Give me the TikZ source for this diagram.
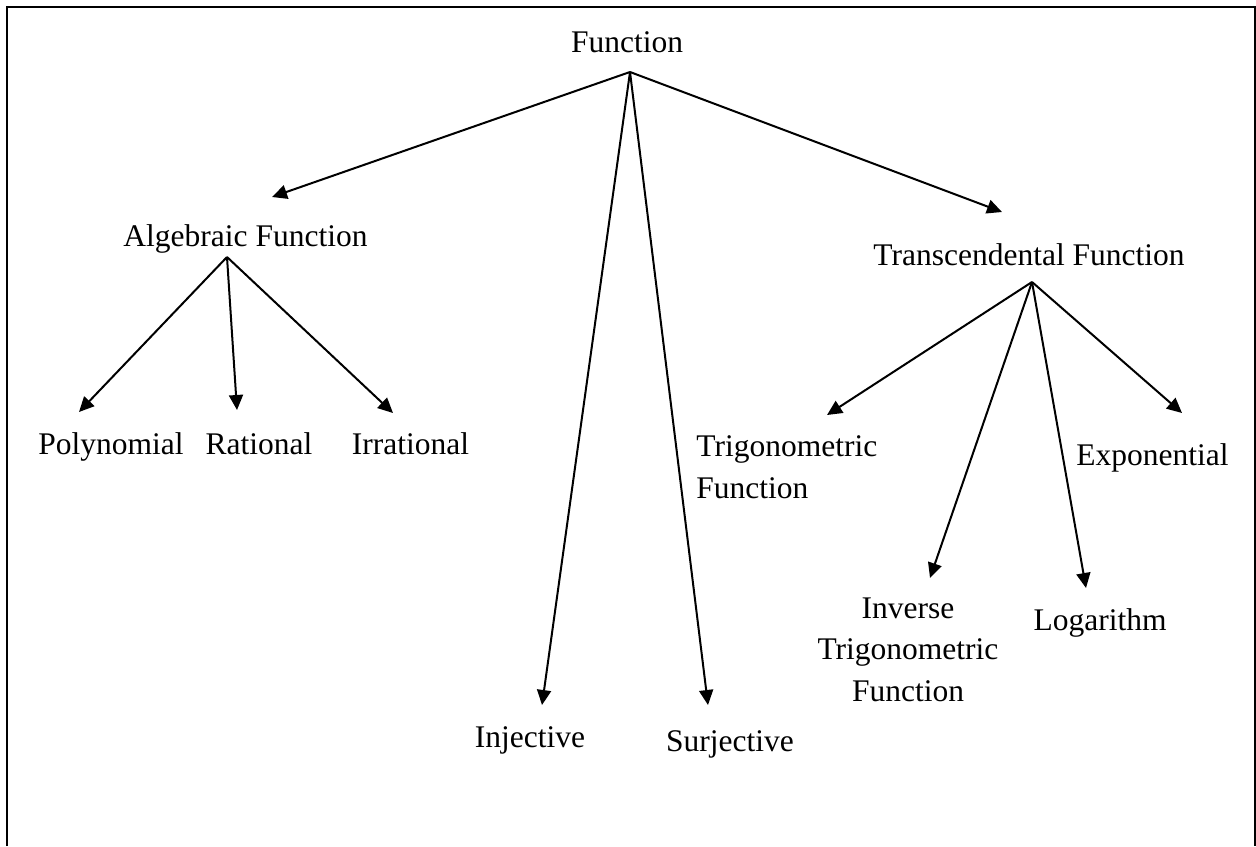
\documentclass[tikz,border=0pt]{standalone}
\usepackage{fontspec}
\setmainfont{Liberation Serif}
\usetikzlibrary{arrows.meta}

\begin{document}
\begin{tikzpicture}[x = 0.5pt, y = -0.5pt,
	lbl/.style = {inner sep = 0pt, font = \fontsize{15.75}{20.75}\selectfont},
	arr/.style = {line width = 1pt, -{Triangle[length = 7.5pt, width = 7pt]}}]
			\useasboundingbox (0,0) rectangle (1256,846);
			\draw[line width = 1pt] (7,846) -- (7,7) -- (1255,7) -- (1255,846);
			\node (fn) at (627,52) [lbl, anchor = base] {Function};
			\node (alg) at (245.5,246) [lbl, anchor = base] {Algebraic Function};
			\node (trans) at (1029,265) [lbl, anchor = base] {Transcendental Function};
			\node (poly) at (111,454) [lbl, anchor = base] {Polynomial};
			\node (rat) at (259,454) [lbl, anchor = base] {Rational};
			\node (irr) at (410.5,454) [lbl, anchor = base] {Irrational};
			\node (inj) at (530,747) [lbl, anchor = base] {Injective};
			\node (surj) at (730,751) [lbl, anchor = base] {Surjective};
			\node (trig) at (696,498) [lbl, anchor = base west, align = left] {Trigonometric\\Function};
			\node (inv) at (908,701) [lbl, anchor = base, align = center] {Inverse\\Trigonometric\\Function};
			\node (log) at (1100,630) [lbl, anchor = base] {Logarithm};
			\node (exp) at (1152.5,465) [lbl, anchor = base] {Exponential};
			\coordinate (fn-root) at ([shift = {(3,20)}]fn.base);
			\coordinate (alg-root) at ([shift = {(-18.5,11)}]alg.base);
			\coordinate (trans-root) at ([shift = {(3,17)}]trans.base);
			\draw[arr] (fn-root) -- ([shift = {(26.5,-49)}]alg.base);
			\draw[arr] (fn-root) -- ([shift = {(-27,-53)}]trans.base);
			\draw[arr] (fn-root) -- ([shift = {(12,-42)}]inj.base);
			\draw[arr] (fn-root) -- ([shift = {(-22,-46)}]surj.base);
			\draw[arr] (alg-root) -- ([shift = {(-32,-42)}]poly.base);
			\draw[arr] (alg-root) -- ([shift = {(-22,-44)}]rat.base);
			\draw[arr] (alg-root) -- ([shift = {(-17.5,-41)}]irr.base);
			\draw[arr] (trans-root) -- ([shift = {(131,-83)}]trig.base west);
			\draw[arr] (trans-root) -- ([shift = {(22,-123)}]inv.base);
			\draw[arr] (trans-root) -- ([shift = {(-14,-42)}]log.base);
			\draw[arr] (trans-root) -- ([shift = {(29.5,-52)}]exp.base);
			\end{tikzpicture}
\end{document}
